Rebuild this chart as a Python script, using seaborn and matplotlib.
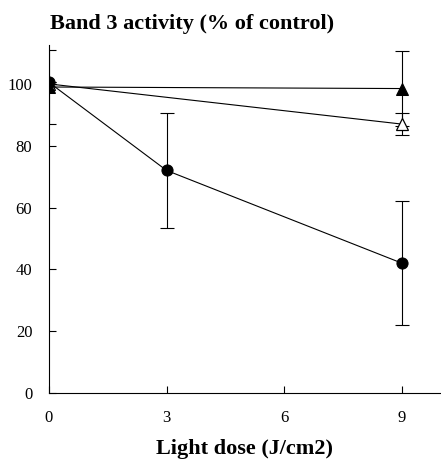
import pandas as pd
import matplotlib
matplotlib.use("Agg")
import matplotlib.pyplot as plt
import seaborn as sns

# Values
dose = [0, 3, 9]
filled_circle = [100.5, 72, 42]
filled_circle_err = [0, 18.5, 20]
dose_tri = [0, 9]
filled_triangle = [99, 98.5]
filled_triangle_err = [12, 12]
open_triangle = [100, 87]
open_triangle_err = [0, 3.5]

sns.set_theme(style="ticks")
plt.rcParams['font.family'] = ['Liberation Serif', 'DejaVu Serif']
plt.rcParams['text.color'] = 'black'
plt.rcParams['axes.labelcolor'] = 'black'

df = pd.concat([
    pd.DataFrame({'dose': dose, 'activity': filled_circle, 'group': 'circle'}),
    pd.DataFrame({'dose': dose_tri, 'activity': filled_triangle, 'group': 'tri_filled'}),
    pd.DataFrame({'dose': dose_tri, 'activity': open_triangle, 'group': 'tri_open'}),
])

fig = plt.figure(figsize=(4.41, 4.59), dpi=100)
ax = fig.add_axes([0.111, 0.144, 0.889, 0.758])

# Error bars first so markers sit on top
ax.errorbar(dose, filled_circle, yerr=filled_circle_err, fmt='none',
            ecolor='black', elinewidth=0.8, capsize=5, capthick=0.8)
ax.errorbar(dose_tri, filled_triangle, yerr=filled_triangle_err, fmt='none',
            ecolor='black', elinewidth=0.8, capsize=5, capthick=0.8)
ax.errorbar(dose_tri, open_triangle, yerr=open_triangle_err, fmt='none',
            ecolor='black', elinewidth=0.8, capsize=5, capthick=0.8)

sns.lineplot(data=df[df.group == 'tri_open'], x='dose', y='activity', ax=ax,
             color='black', linewidth=0.8, marker='^', markersize=8,
             markerfacecolor='white', markeredgecolor='black', markeredgewidth=0.9)
sns.lineplot(data=df[df.group == 'tri_filled'], x='dose', y='activity', ax=ax,
             color='black', linewidth=0.8, marker='^', markersize=8,
             markerfacecolor='black', markeredgecolor='black')
sns.lineplot(data=df[df.group == 'circle'], x='dose', y='activity', ax=ax,
             color='black', linewidth=0.8, marker='o', markersize=8,
             markerfacecolor='black', markeredgecolor='black')

ax.set_xlim(0, 10)
ax.set_ylim(0, 112.6)
ax.set_xticks([0, 3, 6, 9])
ax.set_yticks([0, 20, 40, 60, 80, 100])
ax.tick_params(direction='in', length=5, width=0.8, labelsize=12, colors='black')
ax.tick_params(axis='y', pad=12)
ax.tick_params(axis='x', pad=12)
for side in ['top', 'right']:
    ax.spines[side].set_visible(False)
for side in ['left', 'bottom']:
    ax.spines[side].set_linewidth(0.8)
    ax.spines[side].set_color('black')

ax.set_xlabel('Light dose (J/cm2)', fontsize=16, fontweight='bold', labelpad=10,
              color='black')
ax.set_ylabel('')
fig.text(0.113, 0.948, 'Band 3 activity (% of control)', fontsize=16,
         fontweight='bold', ha='left', va='center', color='black')

fig.savefig('out.png', dpi=100)
